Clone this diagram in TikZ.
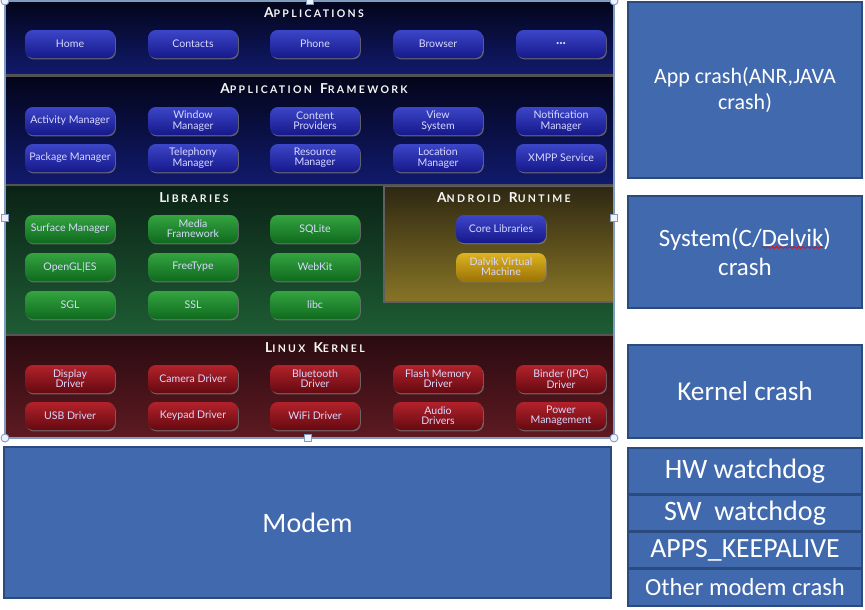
\documentclass[tikz,border=0pt]{standalone}
\usepackage{fontspec}
\setmainfont{Carlito}
\newfontfamily\gill{Lato}
\newfontfamily\capsfont[LetterSpace=22]{Lato}
\usetikzlibrary{shadows,decorations.pathmorphing}
\definecolor{btnbluetop}{HTML}{3C46C8}
\definecolor{btnbluebot}{HTML}{16188A}
\definecolor{btngreentop}{HTML}{34A440}
\definecolor{btngreenbot}{HTML}{0F6A1E}
\definecolor{btnredtop}{HTML}{B3222B}
\definecolor{btnredbot}{HTML}{650910}
\definecolor{btngoldtop}{HTML}{DDB321}
\definecolor{btngoldbot}{HTML}{9C7406}
\definecolor{appstop}{HTML}{03051A}
\definecolor{appsbot}{HTML}{111A6C}
\definecolor{libstop}{HTML}{0B2216}
\definecolor{libsbot}{HTML}{1E5C34}
\definecolor{rttop}{HTML}{2E2712}
\definecolor{rtbot}{HTML}{877526}
\definecolor{kerntop}{HTML}{2A0B10}
\definecolor{kernbot}{HTML}{5E1A22}
\definecolor{crashblue}{HTML}{4169AE}
\definecolor{crashedge}{HTML}{2B4A7E}
\definecolor{handle}{HTML}{7F9CC0}
\newcommand\captitle[2]{{\fontsize{7.8}{8}\selectfont #1}{\fontsize{6}{8}\selectfont #2}}

\begin{document}
\begin{tikzpicture}[x=0.02cm,y=-0.02cm,
  btn/.style={rounded corners=4.5pt,minimum width=1.8cm,minimum height=0.56cm,inner sep=0pt,align=center,
    font=\gill\fontsize{6}{5.8}\selectfont,text=white!85!blue,
    drop shadow={shadow xshift=0.5pt,shadow yshift=-0.8pt,opacity=0.7}},
  bluebtn/.style={btn,top color=btnbluetop,bottom color=btnbluebot},
  greenbtn/.style={btn,top color=btngreentop,bottom color=btngreenbot},
  redbtn/.style={btn,top color=btnredtop,bottom color=btnredbot},
  goldbtn/.style={btn,top color=btngoldtop,bottom color=btngoldbot},
  bandtitle/.style={font=\capsfont\bfseries,text=white!93!gray,inner sep=0pt},
  crashbox/.style={draw=crashedge,fill=crashblue,line width=1.3pt,text=white,align=center,inner sep=0pt}]
  \useasboundingbox(0,0)rectangle(865,609);
  % android stack
  \shade[top color=appstop,bottom color=appsbot](6,1)rectangle(614,74);
  \shade[top color=appstop,bottom color=appsbot](6,77)rectangle(614,184);
  \shade[top color=libstop,bottom color=libsbot](6,186)rectangle(614,334);
  \shade[top color=kerntop,bottom color=kernbot](6,336)rectangle(614,438);
  \shade[top color=rttop,bottom color=rtbot,draw=gray!75!black,line width=1.2pt](384,186)rectangle(614,302);
  \draw[gray!65!black,line width=1.6pt](6,75.5)--(614,75.5)(6,185)--(614,185)(6,335)--(614,335);
  \node[bandtitle] (tapps) at (314,13) {\captitle{A}{PPLICATIONS}};
  \node[bandtitle] (tfw) at (314,89) {\captitle{A}{PPLICATION} \captitle{F}{RAMEWORK}};
  \node[bandtitle] (tlibs) at (194,198) {\captitle{L}{IBRARIES}};
  \node[bandtitle] (trt) at (504,198) {\captitle{A}{NDROID} \captitle{R}{UNTIME}};
  \node[bandtitle] (tkern) at (315,348) {\captitle{L}{INUX} \captitle{K}{ERNEL}};
  \node[bluebtn] (home) at (70,44) {Home};
  \node[bluebtn] (contacts) at (193,44) {Contacts};
  \node[bluebtn] (phone) at (315,44) {Phone};
  \node[bluebtn] (browser) at (438,44) {Browser};
  \node[bluebtn] (more) at (561,44) {\fontsize{8}{8}\selectfont\bfseries...};
  \node[bluebtn] (actmgr) at (70,121) {Activity Manager};
  \node[bluebtn] (winmgr) at (193,121) {Window\\Manager};
  \node[bluebtn] (content) at (315,121) {Content\\Providers};
  \node[bluebtn] (view) at (438,121) {View\\System};
  \node[bluebtn] (notif) at (561,121) {Notification\\Manager};
  \node[bluebtn] (pkgmgr) at (70,158) {Package Manager};
  \node[bluebtn] (telmgr) at (193,158) {Telephony\\Manager};
  \node[bluebtn] (resmgr) at (315,158) {Resource\\Manager};
  \node[bluebtn] (locmgr) at (438,158) {Location\\Manager};
  \node[bluebtn] (xmpp) at (561,158) {XMPP Service};
  \node[greenbtn] (surface) at (70,229) {Surface Manager};
  \node[greenbtn] (media) at (193,229) {Media\\Framework};
  \node[greenbtn] (sqlite) at (315,229) {SQLite};
  \node[greenbtn] (opengl) at (70,267) {OpenGL|ES};
  \node[greenbtn] (freetype) at (193,267) {FreeType};
  \node[greenbtn] (webkit) at (315,267) {WebKit};
  \node[greenbtn] (sgl) at (70,305) {SGL};
  \node[greenbtn] (ssl) at (193,305) {SSL};
  \node[greenbtn] (libc) at (315,305) {libc};
  \node[bluebtn] (corelib) at (501,229) {Core Libraries};
  \node[goldbtn] (dalvik) at (501,267) {Dalvik Virtual\\Machine};
  \node[redbtn] (display) at (70,379) {Display\\Driver};
  \node[redbtn] (camera) at (193,379) {Camera Driver};
  \node[redbtn] (bt) at (315,379) {Bluetooth\\Driver};
  \node[redbtn] (flash) at (438,379) {Flash Memory\\Driver};
  \node[redbtn] (binder) at (561,379) {Binder (IPC)\\Driver};
  \node[redbtn] (usb) at (70,416) {USB Driver};
  \node[redbtn] (keypad) at (193,416) {Keypad Driver};
  \node[redbtn] (wifi) at (315,416) {WiFi Driver};
  \node[redbtn] (audio) at (438,416) {Audio\\Drivers};
  \node[redbtn] (power) at (561,416) {Power\\Management};
  % selection frame
  \draw[handle,line width=0.6pt](5,1)rectangle(614,438);
  \foreach \p in {(5,1),(614,1),(5,438),(614,438)}
    \draw[handle,fill=blue!6,line width=0.5pt]\p circle(4);
  \foreach \p in {(310,1),(5,218),(614,218),(308,438)}
    \draw[handle,fill=blue!6,line width=0.5pt]\p++(-3.5,-3.5)rectangle++(7,7);
  % modem and crash boxes
  \node[crashbox,minimum width=12.14cm,minimum height=3.02cm,font=\fontsize{16}{19}\selectfont] (modem) at (307.5,522.5) {Modem};
  \node[crashbox,minimum width=4.68cm,minimum height=3.52cm,font=\fontsize{12.5}{15}\selectfont] (app) at (745,90) {App crash(ANR,JAVA\\crash)};
  \node[crashbox,minimum width=4.68cm,minimum height=2.24cm,font=\fontsize{14.2}{16.5}\selectfont] (sys) at (745,252) {System(C/Delvik)\\crash};
  \draw[red,line width=0.4pt,decorate,decoration={snake,amplitude=0.5pt,segment length=2.5pt}](762,247.5)--(823,247.5);
  \node[crashbox,minimum width=4.68cm,minimum height=1.86cm,font=\fontsize{15.5}{18}\selectfont] (kernel) at (745,391.5) {Kernel crash};
  \node[crashbox,minimum width=4.68cm,minimum height=0.92cm,font=\fontsize{16}{18}\selectfont] (hwwd) at (745,471) {HW watchdog};
  \node[crashbox,minimum width=4.68cm,minimum height=0.72cm,font=\fontsize{16}{18}\selectfont] (swwd) at (745,513) {SW\ \ watchdog};
  \node[crashbox,minimum width=4.68cm,minimum height=0.72cm,font=\fontsize{15.8}{18}\selectfont] (keep) at (745,550) {APPS\_KEEPALIVE};
  \node[crashbox,minimum width=4.68cm,minimum height=0.74cm,font=\fontsize{14}{16}\selectfont] (other) at (745,587.5) {Other modem crash};
\end{tikzpicture}
\end{document}
